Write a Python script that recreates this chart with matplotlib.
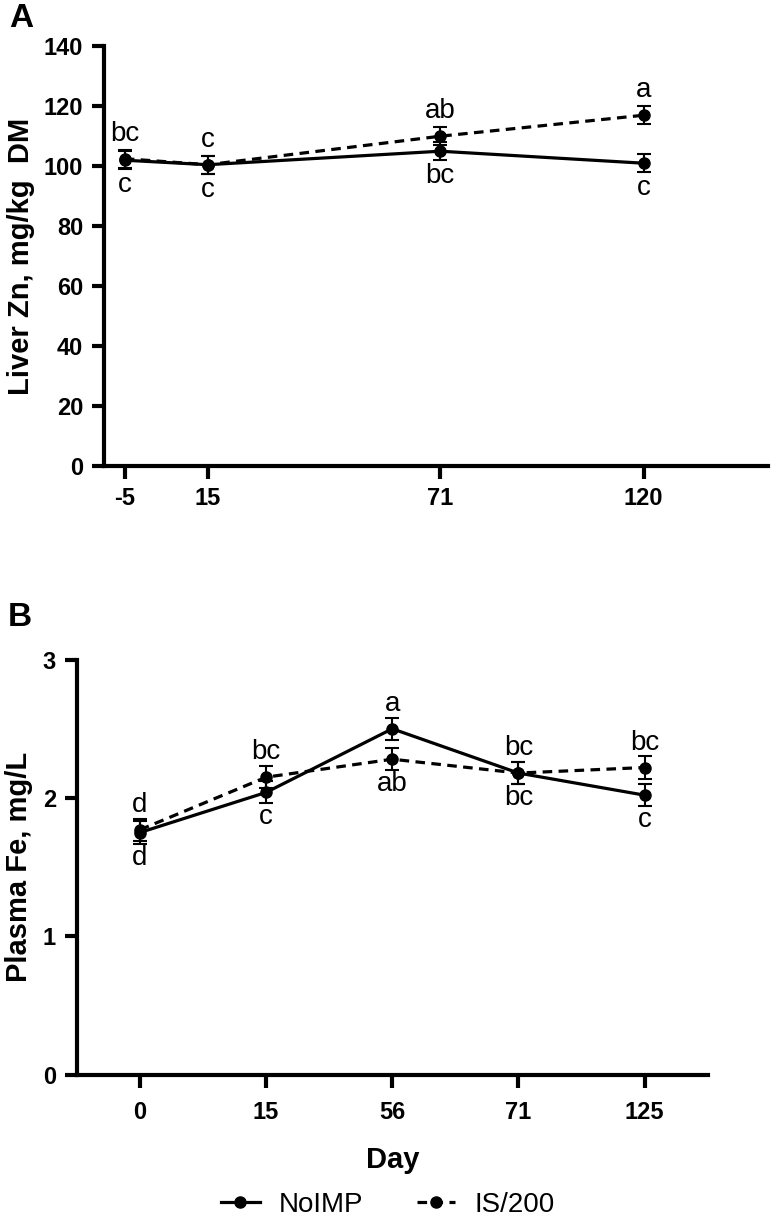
import numpy as np
import matplotlib
matplotlib.use('Agg')
import matplotlib.pyplot as plt
from matplotlib.lines import Line2D

plt.rcParams['font.family'] = ['Liberation Sans', 'DejaVu Sans']
plt.rcParams['axes.unicode_minus'] = False

# Panel A: liver Zn
zn_days = [-5, 15, 71, 120]
zn_noimp = [102, 100.5, 105, 101]
zn_noimp_err = [3, 3, 3, 3]
zn_is = [102.5, 100.5, 110, 117]
zn_is_err = [3, 3, 3, 3]
zn_noimp_lbl = ['c', 'c', 'bc', 'c']
zn_is_lbl = ['bc', 'c', 'ab', 'a']

# Panel B: plasma Fe
fe_days = ['0', '15', '56', '71', '125']
fe_noimp = [1.75, 2.04, 2.50, 2.18, 2.02]
fe_noimp_err = [0.08, 0.08, 0.08, 0.08, 0.08]
fe_is = [1.77, 2.15, 2.28, 2.18, 2.22]
fe_is_err = [0.08, 0.08, 0.08, 0.08, 0.08]
fe_noimp_lbl = ['d', 'c', 'a', 'bc', 'c']
fe_is_lbl = ['d', 'bc', 'ab', 'bc', 'bc']

DASH = (0, (3, 2))
TICKFONT = dict(family=['Liberation Sans Narrow', 'Liberation Sans'], weight='bold', size=17)

fig = plt.figure(figsize=(7.76, 12.17), dpi=100)
axA = fig.add_axes([0.134, 0.617, 0.856, 0.345])
axB = fig.add_axes([0.099, 0.117, 0.813, 0.341])


def style(ax):
    for s in ['top', 'right']:
        ax.spines[s].set_visible(False)
    for s in ['left', 'bottom']:
        ax.spines[s].set_linewidth(3)
    ax.tick_params(direction='out', length=9, width=3, pad=6)
    for lab in ax.get_xticklabels() + ax.get_yticklabels():
        lab.set_fontproperties(TICKFONT)


def draw(ax, x, y1, e1, y2, e2):
    ax.errorbar(x, y1, yerr=e1, color='black', lw=2.3, marker='o', ms=8,
                ecolor='black', elinewidth=1.5, capsize=5, capthick=1.5, zorder=3)
    ax.errorbar(x, y2, yerr=e2, color='black', lw=2.3, ls=DASH, marker='o', ms=8,
                ecolor='black', elinewidth=1.5, capsize=5, capthick=1.5, zorder=3)


def letters(ax, x, y, lbls, where):
    for xi, yi, t, w in zip(x, y, lbls, where):
        off = 25 if w == 'up' else -25
        ax.annotate(t, (xi, yi), xytext=(0, off), textcoords='offset pixels',
                    ha='center', va='center', fontsize=20)


# --- A ---
draw(axA, zn_days, zn_noimp, zn_noimp_err, zn_is, zn_is_err)
letters(axA, zn_days, zn_noimp, zn_noimp_lbl, ['down'] * 4)
letters(axA, zn_days, zn_is, zn_is_lbl, ['up'] * 4)
axA.set_xlim(-10, 150)
axA.set_ylim(0, 140)
axA.set_xticks(zn_days)
axA.set_yticks(np.arange(0, 141, 20))
axA.set_ylabel('Liver Zn, mg/kg  DM', fontsize=21, fontweight='bold', labelpad=6)
style(axA)

# --- B ---
xb = np.arange(len(fe_days))
draw(axB, xb, fe_noimp, fe_noimp_err, fe_is, fe_is_err)
letters(axB, xb, fe_noimp, fe_noimp_lbl, ['down', 'down', 'up', 'down', 'down'])
letters(axB, xb, fe_is, fe_is_lbl, ['up', 'up', 'down', 'up', 'up'])
axB.set_xlim(-0.5, 4.5)
axB.set_ylim(0, 3)
axB.set_xticks(xb)
axB.set_xticklabels(fe_days)
axB.set_yticks([0, 1, 2, 3])
axB.set_ylabel('Plasma Fe, mg/L', fontsize=21, fontweight='bold', labelpad=7)
axB.set_xlabel('Day', fontsize=21, fontweight='bold', labelpad=16)
style(axB)
axB.tick_params(axis='x', pad=10)

fig.text(0.012, 0.985, 'A', fontsize=24, fontweight='bold', va='center')
fig.text(0.010, 0.493, 'B', fontsize=24, fontweight='bold', va='center')

handles = [Line2D([], [], color='black', lw=2.3, marker='o', ms=8),
           Line2D([], [], color='black', lw=2.3, ls=DASH, marker='o', ms=8)]
fig.legend(handles, ['NoIMP', 'IS/200'], loc='lower center', ncol=2, frameon=False,
           fontsize=20, handlelength=1.4, handletextpad=0.7, columnspacing=1.9,
           bbox_to_anchor=(0.5, -0.021))

fig.savefig('out.png', dpi=100)
